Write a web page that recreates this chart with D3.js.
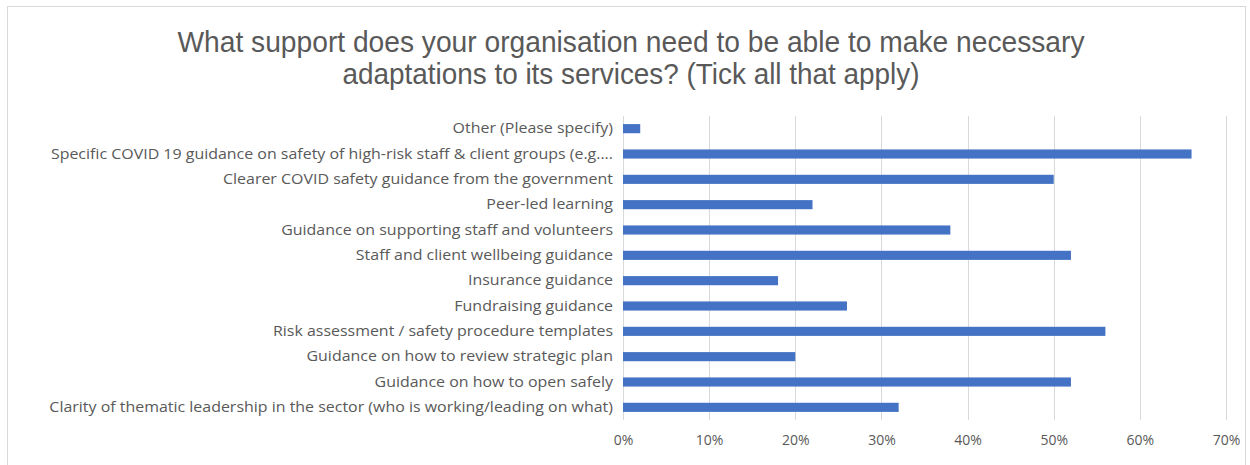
<!DOCTYPE html>
<html>
<head>
<meta charset="utf-8">
<script src="https://cdn.jsdelivr.net/npm/d3@7"></script>
<style>
  html, body { margin: 0; padding: 0; background: #fff; }
  svg { display: block; }
</style>
</head>
<body>
<svg id="chart" width="1250" height="465"></svg>
<script>
// Survey answers, listed top to bottom as drawn
const categories = [
  "Other (Please specify)",
  "Specific COVID 19 guidance on safety of high-risk staff & client groups (e.g....",
  "Clearer COVID safety guidance from the government",
  "Peer-led learning",
  "Guidance on supporting staff and volunteers",
  "Staff and client wellbeing guidance",
  "Insurance guidance",
  "Fundraising guidance",
  "Risk assessment / safety procedure templates",
  "Guidance on how to review strategic plan",
  "Guidance on how to open safely",
  "Clarity of thematic leadership in the sector (who is working/leading on what)"
];
// Share of respondents selecting each option
const shares = [0.02, 0.66, 0.50, 0.22, 0.38, 0.52, 0.18, 0.26, 0.56, 0.20, 0.52, 0.32];
const tickValues = [0, 0.1, 0.2, 0.3, 0.4, 0.5, 0.6, 0.7];
const titleLines = [
  "What support does your organisation need to be able to make necessary",
  "adaptations to its services? (Tick all that apply)"
];

const svg = d3.select("#chart");
const textColor = "#595959";
const labelFont = "'Open Sans', 'Noto Sans', sans-serif";

// outer chart frame
svg.append("rect")
  .attr("x", 7.5).attr("y", 6.5)
  .attr("width", 1238).attr("height", 470)
  .attr("fill", "#fff").attr("stroke", "#d9d9d9");

// title, set in a condensed face
const titleWidths = [907, 577];
svg.append("g").selectAll("text")
  .data(titleLines)
  .join("text")
  .attr("x", 631)
  .attr("y", (d, i) => 52 + i * 31.5)
  .attr("text-anchor", "middle")
  .attr("fill", textColor)
  .attr("font-family", "'Liberation Sans Narrow', 'Liberation Sans', Arial, sans-serif")
  .attr("font-size", 30)
  .attr("textLength", (d, i) => titleWidths[i])
  .attr("lengthAdjust", "spacingAndGlyphs")
  .text(d => d);

const x = d3.scaleLinear().domain([0, 0.7]).range([623, 1226]);
const y = d3.scaleBand().domain(categories).range([116, 420]).paddingInner(0.64).paddingOuter(0.32);

// vertical gridlines
svg.append("g").selectAll("line")
  .data(tickValues)
  .join("line")
  .attr("x1", d => Math.round(x(d)) + 0.5)
  .attr("x2", d => Math.round(x(d)) + 0.5)
  .attr("y1", 116).attr("y2", 420)
  .attr("stroke", "#d9d9d9").attr("stroke-width", 1);

// bars
svg.append("g").selectAll("rect")
  .data(categories)
  .join("rect")
  .attr("x", x(0))
  .attr("y", d => y(d))
  .attr("width", (d, i) => x(shares[i]) - x(0))
  .attr("height", y.bandwidth())
  .attr("fill", "#4472c4");

// x axis tick labels
const xAxis = d3.axisBottom(x).tickValues(tickValues).tickFormat(d3.format(".0%")).tickSize(0).tickPadding(15);
const gx = svg.append("g").attr("transform", "translate(0,420)").call(xAxis);
gx.select(".domain").remove();
gx.selectAll("text")
  .attr("fill", textColor)
  .attr("font-family", labelFont)
  .attr("font-size", 14);

// category labels, widened slightly to the set width of the original face
const yAxis = d3.axisLeft(y).tickSize(0).tickPadding(10);
const gy = svg.append("g").attr("transform", `translate(${x(0)},0)`).call(yAxis);
gy.select(".domain").remove();
gy.selectAll("text")
  .attr("fill", textColor)
  .attr("font-family", labelFont)
  .attr("font-size", 14.5)
  .each(function () {
    const w = this.getComputedTextLength();
    d3.select(this).attr("textLength", w * 1.1).attr("lengthAdjust", "spacingAndGlyphs");
  });
</script>
</body>
</html>
